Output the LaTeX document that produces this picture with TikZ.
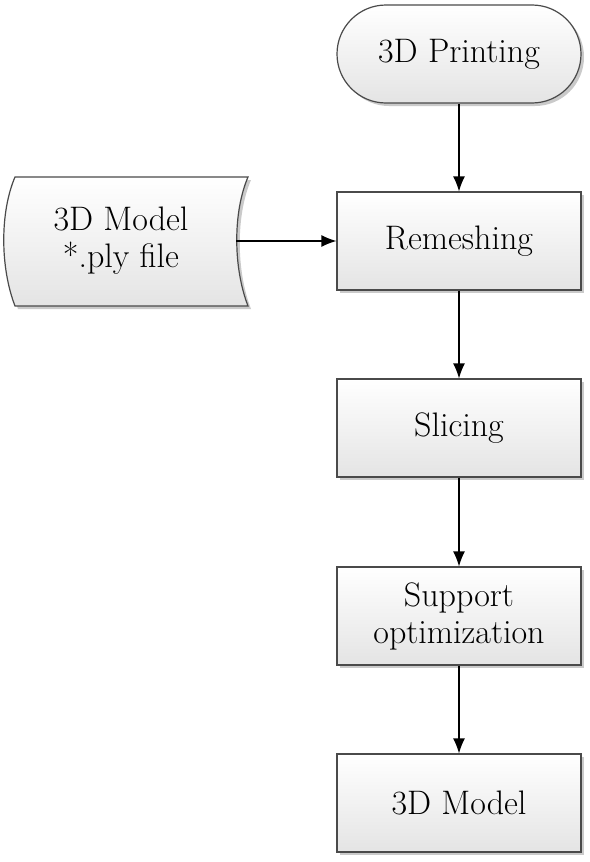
\documentclass[tikz,border=0pt]{standalone}
\usetikzlibrary{arrows.meta,shadows}
\definecolor{edgegray}{HTML}{4A4A4A}
\definecolor{fillbot}{HTML}{E4E4E4}
\begin{document}
\begin{tikzpicture}[x=1pt,y=-1pt,
  every node/.style={font=\fontsize{34}{37}\selectfont, align=center},
  procbox/.style={draw=edgegray, line width=1.2pt, top color=white, bottom color=fillbot,
     minimum width=244pt, minimum height=98pt, inner sep=0pt,
     drop shadow={shadow xshift=3pt, shadow yshift=-3pt, fill=black!35, opacity=0.6}},
  termbox/.style={procbox, rounded corners=49pt},
  conn/.style={draw=black, line width=1.2pt, -{Latex[length=15pt,width=12pt]}}
]
\useasboundingbox (0,0) rectangle (589,862);
\node[termbox] (print) at (459,54) {3D Printing};
\node[procbox] (remesh) at (459,241) {Remeshing};
\node[procbox] (slice) at (459,428) {Slicing};
\node[procbox] (support) at (459,616) {Support\\optimization};
\node[procbox] (model) at (459,803) {3D Model};
% stored data shape
\fill[black!35, opacity=0.6] (18,180) .. controls (3,215) and (3,270) .. (18,309) -- (251,309) .. controls (236,270) and (236,215) .. (251,180) -- cycle;
\draw[edgegray, line width=1.2pt, top color=white, bottom color=fillbot]
  (15,177) .. controls (0,212) and (0,267) .. (15,306) -- (248,306) .. controls (233,267) and (233,212) .. (248,177) -- cycle;
\node (data) at (121,241) {3D Model\\*.ply file};
\coordinate (dataright) at (236,241);
\draw[conn] (print) -- (remesh);
\draw[conn] (dataright) -- (remesh);
\draw[conn] (remesh) -- (slice);
\draw[conn] (slice) -- (support);
\draw[conn] (support) -- (model);
\end{tikzpicture}
\end{document}
